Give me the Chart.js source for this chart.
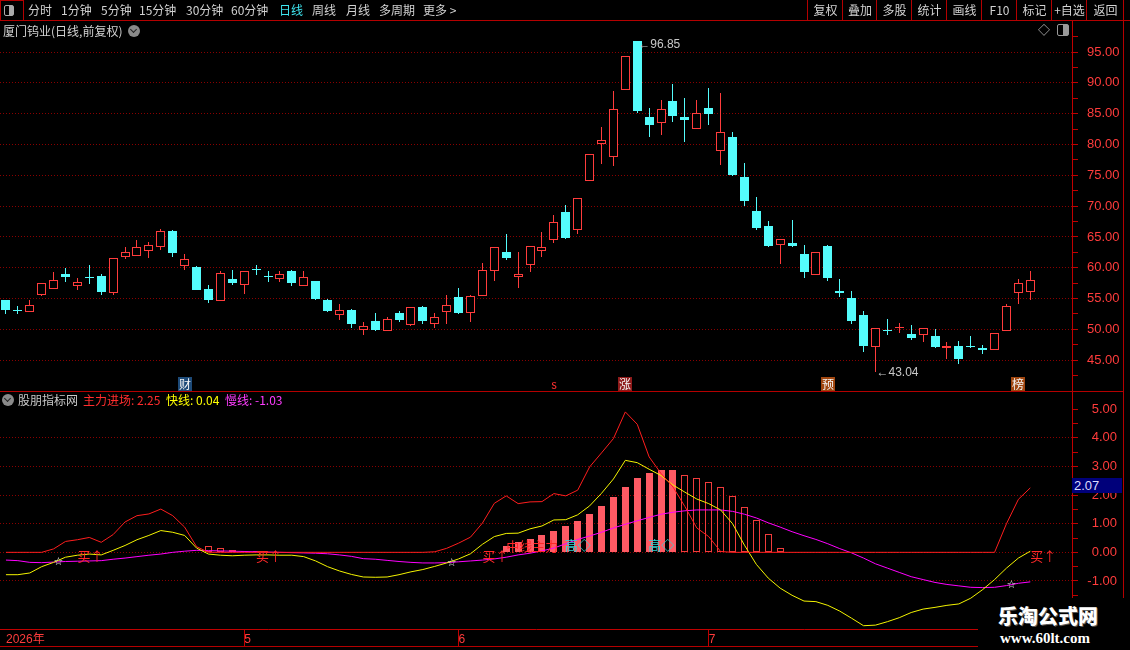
<!DOCTYPE html>
<html>
<head>
<meta charset="utf-8">
<title>厦门钨业 日线</title>
<script src="https://cdn.jsdelivr.net/npm/chart.js@4.4.1/dist/chart.umd.min.js"></script>
<style>
  html, body { margin: 0; padding: 0; background: #000; }
  body { width: 1130px; height: 650px; position: relative; overflow: hidden;
         font-family: "Noto Sans CJK SC", "Liberation Sans", sans-serif; }
  canvas { position: absolute; left: 0; }
  #priceChart { top: 20px; }
  #indChart { top: 391px; }
  .ln { position: absolute; background: #b40000; z-index: 5; }
  .t { position: absolute; white-space: nowrap; font-size: 12px; line-height: 20px; color: #d2d2d2; z-index: 6; }
  .btn { position: absolute; top: 0; height: 20px; text-align: center; font-size: 12px; line-height: 20px;
         color: #d2d2d2; border-left: 1px solid #b40000; z-index: 6; }
  .circ { position: absolute; width: 12px; height: 12px; border-radius: 6px; background: #8a8a8a; z-index: 6; }
  .circ:after { content: ''; position: absolute; left: 3px; top: 2px; width: 4px; height: 4px;
                border-right: 1.5px solid #222; border-bottom: 1.5px solid #222; transform: rotate(45deg); }
</style>
</head>
<body>

<!-- toolbar -->
<div class="ln" style="left:0;top:20px;width:1130px;height:1px"></div>
<div style="position:absolute;left:0;top:0;width:22px;height:19px;border:1px solid #b40000;z-index:6"></div>
<div style="position:absolute;left:4px;top:5px;width:8px;height:9px;border:1px solid #aaa;border-radius:2px;z-index:7">
  <div style="position:absolute;right:0;top:0;width:4px;height:9px;background:#aaa"></div>
</div>
<span class="t" style="left:28px;top:0">分时</span>
<span class="t" style="left:61px;top:0">1分钟</span>
<span class="t" style="left:101px;top:0">5分钟</span>
<span class="t" style="left:139px;top:0">15分钟</span>
<span class="t" style="left:186px;top:0">30分钟</span>
<span class="t" style="left:231px;top:0">60分钟</span>
<span class="t" style="left:279px;top:0;color:#3ee6f0">日线</span>
<span class="t" style="left:312px;top:0">周线</span>
<span class="t" style="left:346px;top:0">月线</span>
<span class="t" style="left:379px;top:0">多周期</span>
<span class="t" style="left:423px;top:0">更多 &gt;</span>
<div class="btn" style="left:807px;width:35px">复权</div>
<div class="btn" style="left:842px;width:34px">叠加</div>
<div class="btn" style="left:876px;width:35px">多股</div>
<div class="btn" style="left:911px;width:35px">统计</div>
<div class="btn" style="left:946px;width:35px">画线</div>
<div class="btn" style="left:981px;width:35px">F10</div>
<div class="btn" style="left:1016px;width:35px">标记</div>
<div class="btn" style="left:1051px;width:35px">+自选</div>
<div class="btn" style="left:1086px;width:37px">返回</div>
<div class="ln" style="left:1123px;top:0;width:1px;height:650px"></div>

<!-- price panel header -->
<span class="t" style="left:3px;top:21px;font-size:12px">厦门钨业(日线,前复权)</span>
<div class="circ" style="left:128px;top:25px"></div>
<span class="t" style="left:1038px;top:20px;color:#bbb">◇</span>
<div style="position:absolute;left:1057px;top:24px;width:10px;height:10px;border:1px solid #999;border-radius:2px;z-index:6">
  <div style="position:absolute;right:0;top:0;width:5px;height:10px;background:#999"></div>
</div>
<div class="ln" style="left:0;top:391px;width:1123px;height:1px"></div>

<!-- indicator legend -->
<div class="circ" style="left:2px;top:394px"></div>
<span class="t" style="left:18px;top:390px;color:#c8c8c8">股朋指标网</span>
<span class="t" id="lgMain" style="left:83px;top:390px;color:#ff2d2d"></span>
<span class="t" id="lgFast" style="left:166px;top:390px;color:#ffff00"></span>
<span class="t" id="lgSlow" style="left:225px;top:390px;color:#ff3cff"></span>
<div style="position:absolute;left:1072px;top:478px;width:50px;height:15px;background:#00007a;color:#dcdcff;
            font:13px 'Liberation Sans';line-height:15px;padding-left:2px;z-index:6;box-sizing:border-box">2.07</div>
<div class="ln" style="left:0;top:646px;width:978px;height:1px"></div>

<!-- watermark -->
<div style="position:absolute;left:978px;top:598px;width:152px;height:52px;background:#000;z-index:8"></div>
<div style="position:absolute;left:998px;top:601px;z-index:9;color:#fff;font:900 20px 'Noto Sans CJK SC';
            text-shadow:1px 1px 0 #555">乐淘公式网</div>
<div style="position:absolute;left:1000px;top:630px;z-index:9;color:#fff;font:bold 15px 'Liberation Serif'">www.60lt.com</div>

<canvas id="priceChart" width="1130" height="371"></canvas>
<canvas id="indChart" width="1130" height="255"></canvas>

<script>
// trading days shown
const dates = [
  '2026-04-02','2026-04-03','2026-04-07','2026-04-08','2026-04-09','2026-04-10',
  '2026-04-13','2026-04-14','2026-04-15','2026-04-16','2026-04-17',
  '2026-04-20','2026-04-21','2026-04-22','2026-04-23','2026-04-24',
  '2026-04-27','2026-04-28','2026-04-29','2026-04-30',
  '2026-05-06','2026-05-07','2026-05-08',
  '2026-05-11','2026-05-12','2026-05-13','2026-05-14','2026-05-15',
  '2026-05-18','2026-05-19','2026-05-20','2026-05-21','2026-05-22',
  '2026-05-25','2026-05-26','2026-05-27','2026-05-28','2026-05-29',
  '2026-06-01','2026-06-02','2026-06-03','2026-06-04','2026-06-05',
  '2026-06-08','2026-06-09','2026-06-10','2026-06-11','2026-06-12',
  '2026-06-15','2026-06-16','2026-06-17','2026-06-18',
  '2026-06-22','2026-06-23','2026-06-24','2026-06-25','2026-06-26',
  '2026-06-29','2026-06-30',
  '2026-07-01','2026-07-02','2026-07-03',
  '2026-07-06','2026-07-07','2026-07-08','2026-07-09','2026-07-10',
  '2026-07-13','2026-07-14','2026-07-15','2026-07-16','2026-07-17',
  '2026-07-20','2026-07-21','2026-07-22','2026-07-23','2026-07-24',
  '2026-07-27','2026-07-28','2026-07-29','2026-07-30','2026-07-31',
  '2026-08-03','2026-08-04','2026-08-05','2026-08-06','2026-08-07'
];

const openPrices = [
  54.7, 53.05, 52.8, 55.5, 56.5, 59.05, 57.0, 58.4, 58.7, 55.9,
  61.7, 61.85, 62.7, 63.3, 66.0, 60.25, 60.2, 56.6, 54.6, 58.25,
  57.15, 59.75, 58.55, 58.25, 59.4, 57.0, 57.9, 54.7, 52.3, 53.2,
  49.85, 51.4, 49.7, 52.7, 50.65, 53.7, 50.8, 52.8, 55.3, 52.65,
  55.35, 59.55, 62.6, 58.5, 60.4, 62.65, 64.45, 69.1, 66.05, 74.0,
  80.0, 78.0, 88.8, 96.8, 84.5, 83.5, 87.0, 84.4, 82.55, 86.0,
  79.0, 81.2, 74.75, 69.25, 66.8, 63.65, 64.05, 62.15, 58.9, 63.6,
  56.2, 55.1, 52.35, 47.15, 49.85, 50.25, 49.3, 49.05, 48.95, 47.0,
  47.3, 47.2, 47.05, 46.6, 49.75, 55.9, 56.1
];
const highPrices = [
  54.8, 53.8, 54.8, 57.55, 59.3, 60.0, 58.35, 60.5, 59.05, 61.6,
  63.4, 64.55, 64.15, 66.35, 66.05, 62.15, 60.35, 57.15, 59.4, 59.7,
  59.4, 60.5, 59.4, 59.45, 59.6, 59.4, 57.9, 54.95, 54.05, 53.3,
  51.2, 52.7, 52.0, 53.0, 53.6, 53.85, 52.65, 55.6, 56.75, 55.5,
  60.8, 63.4, 65.5, 62.6, 63.5, 65.85, 68.6, 70.2, 71.3, 78.4,
  82.8, 88.75, 94.35, 96.85, 86.0, 87.3, 89.8, 87.6, 87.3, 89.1,
  88.3, 82.0, 77.0, 71.5, 67.65, 64.7, 67.8, 63.75, 62.6, 63.75,
  58.25, 56.2, 53.05, 50.25, 51.75, 51.0, 50.75, 50.25, 50.1, 48.0,
  48.15, 48.95, 47.5, 49.4, 54.15, 58.2, 59.4
];
const lowPrices = [
  52.45, 52.5, 52.8, 55.4, 56.5, 57.65, 56.45, 57.3, 55.65, 55.5,
  61.4, 61.85, 61.5, 62.85, 61.7, 59.7, 56.35, 54.2, 54.55, 57.15,
  55.8, 58.9, 57.65, 57.75, 57.0, 57.0, 54.8, 52.8, 51.6, 50.15,
  49.05, 49.7, 49.7, 51.15, 50.6, 50.8, 50.15, 50.95, 52.45, 51.15,
  55.35, 57.8, 61.2, 56.65, 59.25, 61.7, 64.0, 64.6, 65.5, 74.0,
  76.9, 76.55, 88.8, 85.1, 81.25, 81.5, 83.65, 80.4, 82.5, 83.1,
  76.65, 74.95, 70.1, 66.2, 63.3, 60.55, 63.3, 58.4, 58.8, 57.85,
  55.2, 50.9, 46.35, 43.04, 49.05, 49.4, 48.25, 47.9, 46.95, 45.15,
  44.35, 46.95, 45.95, 46.6, 49.75, 54.1, 54.75
];
const closePrices = [
  53.1, 53.0, 53.95, 57.55, 58.0, 58.45, 57.7, 58.35, 56.0, 61.6,
  62.6, 63.3, 63.75, 66.0, 62.35, 61.45, 56.45, 54.7, 59.2, 57.5,
  59.4, 59.7, 58.5, 59.0, 57.6, 58.5, 54.85, 53.05, 53.2, 50.85,
  50.55, 49.85, 51.7, 51.6, 53.6, 51.3, 52.0, 53.95, 52.6, 55.45,
  59.6, 63.35, 61.5, 58.95, 63.5, 63.35, 67.4, 64.85, 71.3, 78.4,
  80.8, 85.8, 94.35, 85.45, 83.2, 85.8, 84.55, 84.0, 85.15, 84.95,
  82.1, 75.05, 70.85, 66.5, 63.6, 64.7, 63.5, 59.3, 62.6, 58.35,
  55.95, 51.3, 47.25, 50.25, 49.8, 50.3, 48.55, 50.25, 47.1, 47.3,
  45.15, 47.15, 46.6, 49.4, 53.8, 57.55, 58.05
];

// 主力进场
const mainForce = [
  0, 0, 0, 0, 0.12, 0.38, 0.44, 0.52, 0.35, 0.62,
  1.06, 1.28, 1.34, 1.51, 1.28, 0.88, 0.2, 0, 0, 0,
  0, 0, 0, 0, 0, 0, 0, 0, 0, 0,
  0, 0, 0, 0, 0, 0, 0.02, 0.14, 0.32, 0.53,
  1.02, 1.71, 1.97, 1.7, 1.76, 1.77, 2.05, 1.97, 2.17, 2.98,
  3.47, 3.97, 4.9, 4.47, 3.33, 2.75, 2.28, 1.6, 0.85, 0.55,
  0.03, 0, 0, 0, 0, 0, 0, 0, 0, 0,
  0, 0, 0, 0, 0, 0, 0, 0, 0, 0,
  0, 0, 0, 0, 1.0, 1.85, 2.25
];
// 快线
const fastLine = [
  -0.78, -0.78, -0.72, -0.5, -0.35, -0.17, -0.1, -0.06, -0.09, 0.07,
  0.24, 0.44, 0.59, 0.76, 0.7, 0.59, 0.15, -0.06, -0.1, -0.12,
  -0.1, -0.09, -0.09, -0.1, -0.1, -0.15, -0.3, -0.5, -0.65, -0.77,
  -0.86, -0.87, -0.86, -0.78, -0.68, -0.6, -0.49, -0.37, -0.23, -0.05,
  0.28, 0.55, 0.66, 0.67, 0.82, 0.92, 1.13, 1.14, 1.31, 1.62,
  2.06, 2.56, 3.21, 3.13, 2.9, 2.68, 2.35, 2.1, 1.86, 1.7,
  1.48, 1.0, 0.25, -0.42, -0.9, -1.25, -1.5, -1.7, -1.72, -1.85,
  -2.05, -2.3, -2.56, -2.54, -2.42, -2.28, -2.1, -1.98, -1.92, -1.85,
  -1.8, -1.6, -1.3, -0.95, -0.55, -0.2, 0.04
];
// 慢线
const slowLine = [
  -0.27, -0.29, -0.35, -0.36, -0.34, -0.32, -0.31, -0.3, -0.29, -0.24,
  -0.2, -0.15, -0.1, -0.06, 0.0, 0.04, 0.07, 0.06, 0.05, 0.04,
  0.03, 0.02, 0.01, 0.0, -0.01, -0.02, -0.03, -0.05, -0.09, -0.14,
  -0.22, -0.24, -0.28, -0.32, -0.35, -0.37, -0.37, -0.36, -0.33, -0.3,
  -0.27, -0.23, -0.17, -0.09, -0.03, 0.05, 0.15, 0.3, 0.45, 0.57,
  0.7, 0.85, 0.98, 1.1, 1.22, 1.33, 1.4, 1.45, 1.48, 1.48,
  1.48, 1.43, 1.33, 1.2, 1.03, 0.88, 0.72, 0.58, 0.45, 0.3,
  0.13, -0.02, -0.2, -0.4, -0.55, -0.7, -0.85, -0.95, -1.05, -1.12,
  -1.17, -1.22, -1.23, -1.22, -1.16, -1.08, -1.03
];
// columns: rising (filled) and falling (hollow)
const riseBars = [
  null, null, null, null, null, null, null, null, null, null,
  null, null, null, null, null, null, null, null, null, null,
  null, null, null, null, null, null, null, null, null, null,
  null, null, null, null, null, null, null, null, null, null,
  null, null, 0.22, 0.35, 0.47, 0.59, 0.75, 0.92, 1.1, 1.35,
  1.62, 1.94, 2.28, 2.6, 2.77, 2.87, 2.87, null, null, null,
  null, null, null, null, null, null, null, null, null, null,
  null, null, null, null, null, null, null, null, null, null,
  null, null, null, null, null, null, null
];
const fallBars = [
  null, null, null, null, null, null, null, null, null, null,
  null, null, null, null, null, null, null, 0.21, 0.15, 0.09,
  0.05, 0.03, null, null, null, null, null, null, null, null,
  null, null, null, null, null, null, null, null, null, null,
  null, null, null, null, null, null, null, null, null, null,
  null, null, null, null, null, null, null, 2.69, 2.58, 2.45,
  2.27, 1.95, 1.58, 1.12, 0.64, 0.15, null, null, null, null,
  null, null, null, null, null, null, null, null, null, null,
  null, null, null, null, null, null, null
];

const priceLabels = [45, 50, 55, 60, 65, 70, 75, 80, 85, 90, 95];
const indLabels = [-1, 0, 1, 2, 3, 4, 5];
const indGrid = [-1, 0, 1, 2, 3, 4];

// signals
const buyIdx = [6, 21, 40, 86];
const starIdx = [4, 37, 84];
const topIdx = [47, 54];
const trendIdx = [42];
const eventIdx = [15, 46, 52, 69, 85];
const eventText = ['财', 's', '涨', '预', '榜'];

const upColor = '#ff3c3c';
const downColor = '#54fcfc';
const frameRed = '#c00000';
const gridRed = '#8a0000';
const axisRed = '#ff3c3c';
const eventBg = { '财': '#1d4a78', '涨': '#8e1a1a', '预': '#a0460f', '榜': '#a0460f' };

// 3 empty slots on the right like the original
const slots = dates.concat(['', '', '']);

document.getElementById('lgMain').textContent = '主力进场: ' + mainForce[mainForce.length - 1].toFixed(2);
document.getElementById('lgFast').textContent = '快线: ' + fastLine[fastLine.length - 1].toFixed(2);
document.getElementById('lgSlow').textContent = '慢线: ' + slowLine[slowLine.length - 1].toFixed(2);

function monthLabel(i) {
    if (i >= dates.length) return '';
    if (i === 0) return dates[0].slice(0, 4) + '年';
    let m = dates[i].slice(5, 7);
    return m !== dates[i - 1].slice(5, 7) ? String(Number(m)) : '';
}

function isUp(i) {
    return closePrices[i] >= openPrices[i];
}

function near(list, v) {
    return list.some(x => Math.abs(x - v) < 1e-6);
}

// keep bar edges on whole pixels so 1px outlines stay sharp
const snapBars = {
    id: 'snapBars',
    beforeDatasetsDraw(chart) {
        chart.getSortedVisibleDatasetMetas().forEach(meta => {
            if (meta.type !== 'bar') return;
            meta.data.forEach(el => {
                if (isNaN(el.y) || isNaN(el.base)) return;
                el.x = Math.floor(el.x) + 0.5;
                let top = Math.round(el.y);
                let base = Math.round(el.base);
                if (Math.abs(top - base) < 1) base = top + 1;
                el.y = top;
                el.base = base;
            });
        });
    }
};

const priceNotes = {
    id: 'priceNotes',
    afterDatasetsDraw(chart) {
        const { ctx, chartArea, scales: { x, y } } = chart;
        ctx.save();
        ctx.textBaseline = 'middle';
        ctx.fillStyle = '#c8c8c8';
        ctx.font = '12px "Liberation Sans", "DejaVu Sans"';

        let hi = highPrices.indexOf(Math.max(...highPrices));
        let lo = lowPrices.indexOf(Math.min(...lowPrices));
        ctx.fillText('←' + highPrices[hi].toFixed(2), x.getPixelForValue(hi) + 1, y.getPixelForValue(highPrices[hi]) + 4);
        ctx.fillText('←' + lowPrices[lo].toFixed(2), x.getPixelForValue(lo) + 1, y.getPixelForValue(lowPrices[lo]));

        ctx.font = '12px "Noto Sans CJK SC"';
        ctx.textAlign = 'center';
        for (let k = 0; k < eventIdx.length; k++) {
            let cx = Math.round(x.getPixelForValue(eventIdx[k]));
            let label = eventText[k];
            if (eventBg[label]) {
                ctx.fillStyle = eventBg[label];
                ctx.fillRect(cx - 7, chartArea.bottom - 14, 14, 14);
                ctx.fillStyle = '#f4f4f4';
            } else {
                ctx.fillStyle = '#ff3030';
            }
            ctx.fillText(label, cx, chartArea.bottom - 7);
        }
        ctx.restore();
    }
};

const indNotes = {
    id: 'indNotes',
    afterDatasetsDraw(chart) {
        const { ctx, scales: { x, y } } = chart;
        const zero = y.getPixelForValue(0);
        ctx.save();
        ctx.textBaseline = 'middle';

        ctx.font = '13px "Noto Sans CJK SC"';
        ctx.fillStyle = '#ff2828';
        buyIdx.forEach(i => ctx.fillText('买↑', x.getPixelForValue(i), zero + 4));
        trendIdx.forEach(i => ctx.fillText('中线主力', x.getPixelForValue(i), zero - 6));

        ctx.fillStyle = '#30d8d8';
        topIdx.forEach(i => ctx.fillText('高◇', x.getPixelForValue(i) - 1, zero - 7));

        ctx.font = '11px "DejaVu Sans"';
        ctx.fillStyle = '#e6e6e6';
        starIdx.forEach(i => ctx.fillText('☆', x.getPixelForValue(i), y.getPixelForValue(slowLine[i])));
        ctx.restore();
    }
};

const axisFont = { family: '"Liberation Sans", "Noto Sans CJK SC"', size: 13 };

new Chart(document.getElementById('priceChart'), {
    type: 'bar',
    data: {
        labels: slots,
        datasets: [
            {
                label: 'body',
                data: openPrices.map((o, i) => [o, closePrices[i]]),
                backgroundColor: c => {
                    let i = c.dataIndex;
                    if (!isUp(i)) return downColor;
                    return (closePrices[i] - openPrices[i] < 0.1) ? upColor : '#000';
                },
                borderColor: c => isUp(c.dataIndex) ? upColor : downColor,
                borderWidth: 1,
                borderSkipped: false,
                barThickness: 9,
                minBarLength: 1,
                grouped: false,
                inflateAmount: 0,
                order: 0
            },
            {
                label: 'wick',
                data: lowPrices.map((l, i) => [l, highPrices[i]]),
                backgroundColor: c => isUp(c.dataIndex) ? upColor : downColor,
                borderWidth: 0,
                barThickness: 1,
                grouped: false,
                inflateAmount: 0,
                order: 1
            }
        ]
    },
    options: {
        responsive: false,
        animation: false,
        events: [],
        layout: { padding: 0, autoPadding: false },
        plugins: { legend: { display: false }, tooltip: { enabled: false } },
        scales: {
            x: { display: false, offset: true },
            y: {
                position: 'right',
                min: 40,
                max: 100.2,
                afterFit: s => { s.width = 58; s.paddingTop = 0; s.paddingBottom = 0; },
                ticks: {
                    stepSize: 2.5,
                    maxTicksLimit: 200,
                    autoSkip: false,
                    color: axisRed,
                    font: axisFont,
                    padding: 9,
                    callback: v => near(priceLabels, v) ? Number(v).toFixed(2) : ''
                },
                grid: {
                    color: c => near(priceLabels, c.tick.value) ? gridRed : 'rgba(0,0,0,0)',
                    tickColor: c => (c.tick.value > 41 && c.tick.value < 98) ? frameRed : 'rgba(0,0,0,0)',
                    tickLength: 6
                },
                border: { color: frameRed, dash: [1, 2] }
            }
        }
    },
    plugins: [snapBars, priceNotes]
});

new Chart(document.getElementById('indChart'), {
    type: 'bar',
    data: {
        labels: slots,
        datasets: [
            { type: 'line', label: '主力进场', data: mainForce, borderColor: '#ff1e1e', borderWidth: 1, pointRadius: 0, order: 0 },
            { type: 'line', label: '快线', data: fastLine, borderColor: '#f4f400', borderWidth: 1, pointRadius: 0, order: 1 },
            { type: 'line', label: '慢线', data: slowLine, borderColor: '#ff00ff', borderWidth: 1, pointRadius: 0, order: 2 },
            {
                label: 'rise', data: riseBars, backgroundColor: '#ff5a64', borderWidth: 0,
                barThickness: 7, grouped: false, inflateAmount: 0, order: 3
            },
            {
                label: 'fall', data: fallBars, backgroundColor: 'rgba(0,0,0,0)', borderColor: '#f03c3c',
                borderWidth: 1, borderSkipped: false, barThickness: 7, grouped: false, inflateAmount: 0, order: 4
            }
        ]
    },
    options: {
        responsive: false,
        animation: false,
        events: [],
        // right padding so the axis labels end where the original's do
        layout: { padding: { right: 13 }, autoPadding: false },
        plugins: { legend: { display: false }, tooltip: { enabled: false } },
        scales: {
            x: {
                position: 'bottom',
                offset: true,
                afterFit: s => { s.height = 17; s.paddingLeft = 0; s.paddingRight = 0; },
                ticks: {
                    autoSkip: false,
                    maxRotation: 0,
                    minRotation: 0,
                    align: 'start',
                    padding: -14,
                    color: axisRed,
                    font: { family: '"Liberation Sans", "Noto Sans CJK SC"', size: 12 },
                    callback: (v, i) => monthLabel(i)
                },
                grid: {
                    drawOnChartArea: false,
                    offset: false,
                    tickLength: 17,
                    tickColor: c => (c.index > 0 && monthLabel(c.index)) ? frameRed : 'rgba(0,0,0,0)'
                },
                border: { color: frameRed }
            },
            y: {
                position: 'right',
                min: -2.675,
                max: 5.63,
                afterFit: s => { s.width = 45; s.paddingTop = 0; s.paddingBottom = 0; },
                ticks: {
                    stepSize: 0.5,
                    maxTicksLimit: 200,
                    autoSkip: false,
                    color: axisRed,
                    font: axisFont,
                    crossAlign: 'far',
                    padding: 9,
                    callback: v => near(indLabels, v) ? Number(v).toFixed(2) : ''
                },
                grid: {
                    color: c => near(indGrid, c.tick.value) ? gridRed : 'rgba(0,0,0,0)',
                    tickColor: frameRed,
                    tickLength: 6
                },
                border: { color: frameRed, dash: [1, 2] }
            }
        }
    },
    plugins: [snapBars, indNotes]
});
</script>
</body>
</html>
